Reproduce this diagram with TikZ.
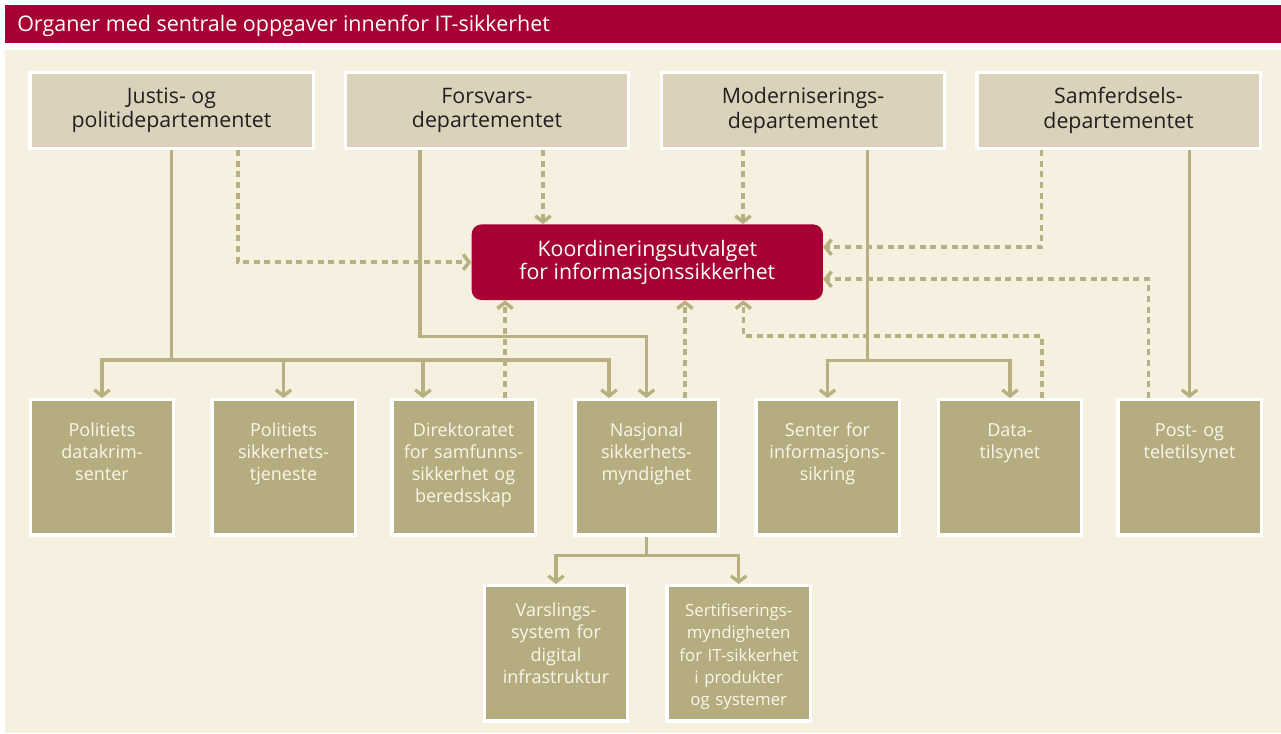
\documentclass[tikz,border=0pt]{standalone}
\usepackage{fontspec}
\setmainfont{Open Sans}
\usetikzlibrary{arrows.meta, calc}

\definecolor{hdred}{RGB}{166,0,52}
\definecolor{cream}{RGB}{246,240,225}
\definecolor{deptan}{RGB}{218,210,186}
\definecolor{unitolive}{RGB}{181,173,127}
\definecolor{linetan}{RGB}{184,176,128}
\definecolor{inktext}{RGB}{35,31,32}
\definecolor{paletext}{RGB}{250,246,234}

\begin{document}
\begin{tikzpicture}[x=0.75pt,y=-0.75pt,
    dept/.style={draw=white,line width=2.6pt,fill=deptan,text=inktext,align=center,inner sep=0pt,
        minimum width=212.6pt,minimum height=56.9pt,font=\fontsize{16}{18.3}\selectfont},
    unit/.style={draw=white,line width=2.6pt,fill=unitolive,text=paletext,align=center,inner sep=0pt,
        text width=107.6pt,text height=27.2pt,text depth=74.2pt,font=\fontsize{13.5}{16.7}\selectfont},
    subunit/.style={unit,text height=23.2pt,text depth=78.2pt},
    flow/.style={draw=linetan,line width=2.5pt},
    dotflow/.style={draw=linetan,line width=2.6pt,dash pattern=on 4.5pt off 3.5pt},
    tip/.style={-{Straight Barb[length=4.5pt,width=11.5pt]}}]
    \useasboundingbox (0,0) rectangle (1281,733);

    % Header and background
    \fill[hdred] (5,5) rectangle (1281,42.7);
    \fill[cream] (5,50) rectangle (1281,733);
    \node[anchor=base west,text=white,inner sep=0pt,font=\fontsize{16.1}{18}\selectfont] (title) at (17,31.5)
        {Organer med sentrale oppgaver innenfor IT-sikkerhet};

    % Departments
    \node[dept] (jus) at (171.5,110.35) {Justis- og\\politidepartementet};
    \node[dept] (for) at (487,110.35) {Forsvars-\\departementet};
    \node[dept] (mod) at (803,110.35) {Moderniserings-\\departementet};
    \node[dept] (sam) at (1118.5,110.35) {Samferdsels-\\departementet};

    % Coordinating committee
    \node[fill=hdred,rounded corners=7.5pt,minimum width=263.5pt,minimum height=56.8pt,
        text=white,align=center,inner sep=0pt,font=\fontsize{16}{17.5}\selectfont] (kis) at (647.3,262.2)
        {Koordineringsutvalget\\for informasjonssikkerhet};

    % Agencies
    \node[unit] (pdk) at (102,467.35) {Politiets\\datakrim-\\senter};
    \node[unit] (pst) at (283.5,467.35) {Politiets\\sikkerhets-\\tjeneste};
    \node[unit] (dsb) at (463.5,467.35) {Direktoratet\\for samfunns-\\sikkerhet og\\beredsskap};
    \node[unit] (nsm) at (646.5,467.35) {Nasjonal\\sikkerhets-\\myndighet};
    \node[unit] (sis) at (827.5,467.35) {Senter for\\informasjons-\\sikring};
    \node[unit] (dat) at (1010,467.35) {Data-\\tilsynet};
    \node[unit] (pt) at (1189.5,467.35) {Post- og\\teletilsynet};

    % Under NSM
    \node[subunit] (var) at (556,653.35) {Varslings-\\system for\\digital\\infrastruktur};
    \node[subunit,font=\fontsize{12.6}{16.7}\selectfont] (ser) at (738.7,653.35)
        {Sertifiserings-\\myndigheten\\for IT-sikkerhet\\i produkter\\og systemer};

    % Lines of authority
    \draw[flow] (jus.south) -- ++(0,210) coordinate (jbus);
    \draw[flow,tip] (jbus) -| (pdk.north);
    \draw[flow,tip] (jbus) -| (pst.north);
    \draw[flow,tip] (jbus) -| ($(dsb.north)+(-40.5,0)$);
    \draw[flow,tip] (jbus) -| ($(nsm.north)+(-37.5,0)$);
    \draw[flow,tip] ($(for.south)+(-67,0)$) -- ++(0,186.7) -| (nsm.north);
    \draw[flow] ($(mod.south)+(64.7,0)$) -- ++(0,210.7) coordinate (mbus);
    \draw[flow,tip] (mbus) -| (sis.north);
    \draw[flow,tip] (mbus) -| (dat.north);
    \draw[flow,tip] (sam.south -| pt.north) -- (pt.north);
    \draw[flow] (nsm.south) -- ++(0,19) coordinate (nbus);
    \draw[flow,tip] (nbus) -| (var.north);
    \draw[flow,tip] (nbus) -| (ser.north);

    % Coordination
    \draw[dotflow,tip] ($(jus.south)+(66.5,0)$) |- (kis.west);
    \draw[dotflow,tip] ($(for.south)+(56,0)$) coordinate (fd) -- (fd |- kis.north);
    \draw[dotflow,tip] ($(mod.south)+(-60,0)$) coordinate (md) -- (md |- kis.north);
    \draw[dotflow,tip] ($(sam.south)+(-76.8,0)$) |- ($(kis.east)+(0,-15)$);
    \draw[dotflow,tip] ($(pt.north)+(-41,0)$) |- ($(kis.east)+(0,17)$);
    \draw[dotflow,tip] ($(dat.north)+(32,0)$) -- ++(0,-62) -| ($(kis.south)+(96,0)$);
    \draw[dotflow,tip] ($(dsb.north)+(41.5,0)$) coordinate (dd) -- (dd |- kis.south);
    \draw[dotflow,tip] ($(nsm.north)+(38.5,0)$) coordinate (nd) -- (nd |- kis.south);
\end{tikzpicture}
\end{document}
